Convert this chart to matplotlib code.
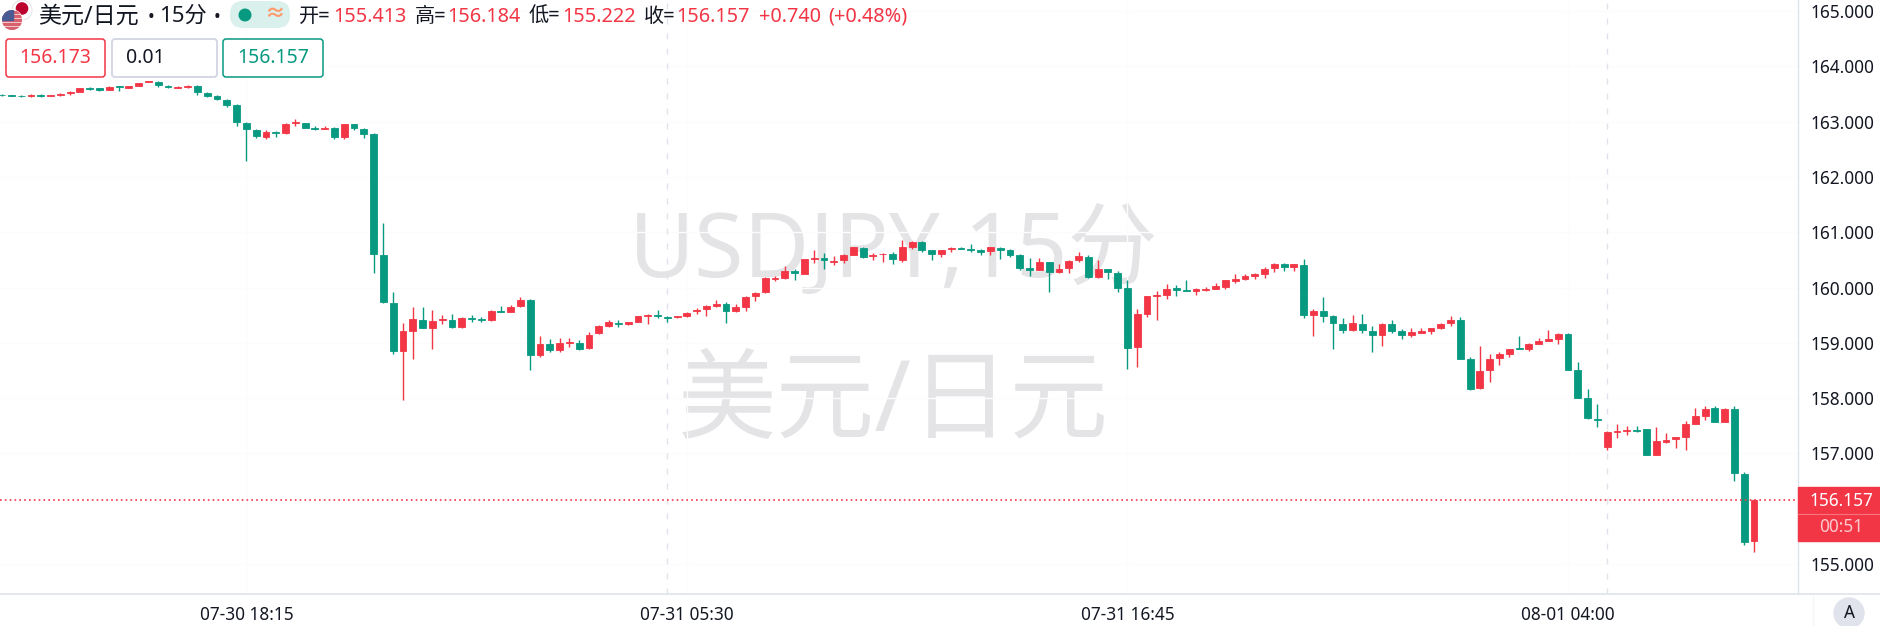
import matplotlib
matplotlib.use('Agg')
import matplotlib.pyplot as plt
from matplotlib.patches import Circle, FancyBboxPatch, Rectangle

plt.rcParams['font.family'] = ['Noto Sans', 'Noto Sans CJK SC', 'DejaVu Sans']

GREEN = '#089981'
RED = '#f23645'
LINE = '#e0e3eb'

# 15分钟K线，从图上读出来的 开/高/低/收
opens = [163.49, 163.48, 163.47, 163.47, 163.48, 163.47, 163.48, 163.51, 163.54, 163.60,
         163.60, 163.58, 163.64, 163.61, 163.65, 163.72, 163.72, 163.64, 163.61, 163.63,
         163.64, 163.52, 163.46, 163.39, 163.30, 162.97, 162.85, 162.72, 162.81, 162.79,
         162.97, 162.97, 162.88, 162.87, 162.88, 162.72, 162.95, 162.87, 162.77, 160.59,
         159.72, 158.86, 159.22, 159.42, 159.27, 159.41, 159.42, 159.29, 159.45, 159.43,
         159.42, 159.58, 159.56, 159.66, 159.77, 158.78, 158.97, 158.87, 158.99, 159.00,
         158.90, 159.17, 159.30, 159.36, 159.34, 159.38, 159.49, 159.51, 159.47, 159.46,
         159.48, 159.58, 159.62, 159.66, 159.71, 159.57, 159.65, 159.84, 159.91, 160.16,
         160.17, 160.30, 160.24, 160.51, 160.53, 160.47, 160.50, 160.59, 160.71, 160.57,
         160.60, 160.60, 160.50, 160.73, 160.82, 160.67, 160.60, 160.69, 160.71, 160.69,
         160.67, 160.66, 160.72, 160.67, 160.59, 160.36, 160.32, 160.46, 160.28, 160.35,
         160.49, 160.56, 160.19, 160.33, 160.27, 159.99, 158.92, 159.53, 159.84, 159.87,
         159.99, 159.95, 159.93, 159.95, 159.98, 160.01, 160.12, 160.16, 160.21, 160.24,
         160.35, 160.43, 160.37, 160.41, 159.51, 159.57, 159.48, 159.34, 159.23, 159.34,
         159.22, 159.14, 159.34, 159.22, 159.15, 159.18, 159.22, 159.26, 159.35, 159.41,
         158.71, 158.18, 158.50, 158.72, 158.79, 158.91, 158.88, 158.98, 159.03, 159.06,
         159.16, 158.50, 158.01, 157.62, 157.11, 157.38, 157.40, 157.42, 157.44, 156.98,
         157.21, 157.26, 157.30, 157.54, 157.68, 157.82, 157.57, 157.81, 156.63, 155.413]
highs = [163.50, 163.49, 163.48, 163.50, 163.50, 163.48, 163.52, 163.55, 163.60, 163.63,
         163.61, 163.64, 163.65, 163.65, 163.70, 163.74, 163.73, 163.66, 163.65, 163.66,
         163.66, 163.54, 163.48, 163.41, 163.31, 162.99, 162.87, 162.85, 162.83, 162.97,
         163.04, 162.98, 162.92, 162.92, 162.91, 162.96, 162.96, 162.89, 162.80, 161.16,
         159.92, 159.35, 159.64, 159.65, 159.59, 159.50, 159.53, 159.46, 159.50, 159.47,
         159.59, 159.67, 159.68, 159.82, 159.80, 159.12, 159.06, 159.08, 159.09, 159.05,
         159.19, 159.32, 159.42, 159.41, 159.38, 159.49, 159.52, 159.59, 159.48, 159.49,
         159.55, 159.63, 159.68, 159.77, 159.74, 159.70, 159.85, 159.91, 160.19, 160.21,
         160.39, 160.34, 160.52, 160.67, 160.63, 160.57, 160.61, 160.74, 160.73, 160.62,
         160.62, 160.64, 160.86, 160.84, 160.85, 160.68, 160.68, 160.73, 160.73, 160.79,
         160.70, 160.74, 160.73, 160.70, 160.60, 160.53, 160.53, 160.47, 160.43, 160.50,
         160.64, 160.59, 160.49, 160.34, 160.29, 160.14, 159.62, 159.85, 159.94, 160.07,
         160.04, 160.13, 160.00, 160.01, 160.09, 160.14, 160.24, 160.24, 160.27, 160.38,
         160.44, 160.44, 160.43, 160.52, 159.62, 159.83, 159.50, 159.44, 159.50, 159.53,
         159.30, 159.35, 159.41, 159.25, 159.26, 159.27, 159.27, 159.35, 159.49, 159.46,
         158.74, 158.94, 158.80, 158.84, 158.89, 159.12, 158.99, 159.09, 159.23, 159.17,
         159.18, 158.65, 158.16, 157.89, 157.40, 157.53, 157.49, 157.49, 157.45, 157.47,
         157.37, 157.30, 157.59, 157.83, 157.85, 157.85, 157.82, 157.86, 156.66, 156.184]
lows = [163.46, 163.46, 163.44, 163.44, 163.45, 163.46, 163.47, 163.48, 163.53, 163.57,
        163.56, 163.57, 163.56, 163.60, 163.64, 163.71, 163.63, 163.61, 163.60, 163.60,
        163.48, 163.45, 163.39, 163.27, 162.92, 162.29, 162.70, 162.69, 162.72, 162.78,
        162.92, 162.88, 162.85, 162.86, 162.69, 162.69, 162.85, 162.71, 160.27, 159.72,
        158.79, 157.96, 158.70, 159.26, 158.88, 159.34, 159.27, 159.27, 159.37, 159.37,
        159.40, 159.55, 159.55, 159.65, 158.51, 158.75, 158.83, 158.84, 158.93, 158.87,
        158.89, 159.16, 159.29, 159.28, 159.33, 159.37, 159.34, 159.44, 159.38, 159.45,
        159.47, 159.53, 159.48, 159.65, 159.36, 159.55, 159.58, 159.76, 159.90, 160.11,
        160.15, 160.14, 160.24, 160.44, 160.33, 160.41, 160.44, 160.58, 160.53, 160.49,
        160.46, 160.43, 160.47, 160.70, 160.65, 160.50, 160.56, 160.64, 160.69, 160.65,
        160.58, 160.58, 160.52, 160.55, 160.32, 160.21, 160.32, 159.92, 160.27, 160.27,
        160.47, 160.18, 160.18, 160.15, 159.91, 158.53, 158.57, 159.46, 159.41, 159.80,
        159.85, 159.93, 159.86, 159.93, 159.97, 159.98, 160.09, 160.14, 160.15, 160.18,
        160.28, 160.30, 160.29, 159.45, 159.13, 159.38, 158.89, 159.18, 159.22, 159.18,
        158.84, 158.95, 159.18, 159.07, 159.11, 159.18, 159.16, 159.25, 159.30, 158.70,
        158.15, 158.16, 158.30, 158.59, 158.75, 158.88, 158.86, 158.97, 159.03, 158.98,
        158.50, 158.00, 157.63, 157.48, 157.07, 157.28, 157.34, 157.39, 156.98, 156.98,
        157.18, 157.09, 157.06, 157.53, 157.60, 157.56, 157.56, 156.51, 155.34, 155.222]
closes = [163.48, 163.47, 163.46, 163.48, 163.47, 163.48, 163.50, 163.53, 163.60, 163.59,
          163.58, 163.63, 163.62, 163.64, 163.69, 163.73, 163.66, 163.63, 163.63, 163.64,
          163.54, 163.47, 163.40, 163.30, 162.99, 162.87, 162.74, 162.81, 162.79, 162.96,
          162.99, 162.89, 162.87, 162.88, 162.72, 162.95, 162.88, 162.78, 160.60, 159.73,
          158.86, 159.21, 159.43, 159.27, 159.40, 159.43, 159.29, 159.45, 159.43, 159.42,
          159.58, 159.56, 159.65, 159.77, 158.78, 158.97, 158.87, 159.00, 159.01, 158.88,
          159.15, 159.30, 159.38, 159.34, 159.37, 159.48, 159.51, 159.48, 159.45, 159.48,
          159.54, 159.60, 159.66, 159.71, 159.58, 159.64, 159.83, 159.90, 160.18, 160.18,
          160.30, 160.26, 160.51, 160.53, 160.49, 160.48, 160.59, 160.73, 160.55, 160.59,
          160.61, 160.51, 160.73, 160.83, 160.67, 160.61, 160.67, 160.71, 160.70, 160.67,
          160.65, 160.73, 160.67, 160.59, 160.36, 160.32, 160.46, 160.28, 160.34, 160.48,
          160.57, 160.19, 160.33, 160.28, 160.00, 158.91, 159.53, 159.84, 159.86, 159.98,
          159.95, 159.94, 159.97, 159.98, 160.02, 160.13, 160.15, 160.20, 160.24, 160.34,
          160.43, 160.37, 160.42, 159.51, 159.58, 159.49, 159.35, 159.23, 159.35, 159.23,
          159.14, 159.34, 159.22, 159.15, 159.19, 159.21, 159.26, 159.34, 159.41, 158.71,
          158.17, 158.49, 158.71, 158.79, 158.88, 158.89, 158.98, 159.03, 159.06, 159.16,
          158.50, 158.01, 157.64, 157.60, 157.39, 157.41, 157.42, 157.40, 156.98, 157.23,
          157.24, 157.29, 157.53, 157.68, 157.81, 157.57, 157.81, 156.64, 155.40, 156.157]

# 坐标轴标签
price_ticks = [155, 157, 158, 159, 160, 161, 162, 163, 164, 165]
time_bars = [25, 70, 115, 160]
time_labels = ['07-30 18:15', '07-31 05:30', '07-31 16:45', '08-01 04:00']
session_bars = [68, 164]
last_price = 156.157

W, H = 1881, 626
fig = plt.figure(figsize=(W / 100, H / 100), dpi=100, facecolor='white')
ax = fig.add_axes([0, (H - 594) / H, 1798 / W, 594 / H])
ax.set_xlim(-0.163, 183.49)
ax.set_ylim(154.458, 165.199)

# 很淡的网格和日期分隔线
ax.set_axisbelow(True)
ax.set_yticks(price_ticks)
ax.set_yticklabels(['%.3f' % p for p in price_ticks])
ax.set_xticks(time_bars)
ax.set_xticklabels(time_labels)
ax.grid(color='#fcfcfd', linewidth=1)
ax.yaxis.tick_right()
ax.tick_params(axis='y', length=0, pad=9, labelsize=12.4, labelcolor='#131722')
ax.tick_params(axis='x', length=0, pad=8.4, labelsize=12.4, labelcolor='#131722')
for s in ['top', 'left']:
    ax.spines[s].set_visible(False)
ax.spines['right'].set_color(LINE)
ax.spines['bottom'].set_color(LINE)
ax.spines['right'].set_linewidth(1)
ax.spines['bottom'].set_linewidth(1.2)
for b in session_bars:
    ax.axvline(b, color=LINE, linewidth=1, dashes=(4.3, 6.5), zorder=1)

# 水印
ax.text(0.497, 0.573, 'USDJPY,15分', transform=ax.transAxes, ha='center', va='center',
        fontsize=65, color='#e4e4e6', zorder=0.5)
ax.text(0.497, 0.317, '美元/日元', transform=ax.transAxes, ha='center', va='center',
        fontsize=71, color='#e4e4e6', zorder=0.5)

# K线
for i in range(len(opens)):
    c = RED if closes[i] >= opens[i] else GREEN
    ax.vlines(i, lows[i], highs[i], colors=c, linewidth=1.0, zorder=3)
    ax.bar(i, abs(closes[i] - opens[i]), bottom=min(opens[i], closes[i]), width=0.7,
           color=c, edgecolor=c, linewidth=0.6, zorder=4)

# 现价线
ax.axhline(last_price, color=RED, linewidth=1.2, dashes=(1.0, 1.9), zorder=5)

# 上面一层用像素坐标画界面元素
ui = fig.add_axes([0, 0, 1, 1], facecolor='none')
ui.set_xlim(0, W)
ui.set_ylim(H, 0)
ui.axis('off')

# 旗子
jp = Circle((22, 10), 10, facecolor='white', edgecolor='#e6e6ea', linewidth=0.8)
ui.add_patch(jp)
ui.add_patch(Circle((22, 8.5), 5.6, color='#bc002d'))
us = Circle((12, 20), 10, color='white')
ui.add_patch(us)
for k in range(5):
    st = Rectangle((2, 10.5 + k * 4), 20, 2, color='#d8606d')
    ui.add_patch(st)
    st.set_clip_path(us)
canton = Rectangle((2, 10), 11, 9.5, color='#4a5a92')
ui.add_patch(canton)
canton.set_clip_path(us)

# 标题栏
ui.text(38, 16.5, '美元/日元', fontsize=16.6, color='#131722', va='center')
ui.text(148, 16.5, '•', fontsize=13, color='#131722', va='center')
ui.text(159, 16.5, '15分', fontsize=16, color='#131722', va='center')
ui.text(214, 16.5, '•', fontsize=13, color='#131722', va='center')
ui.add_patch(FancyBboxPatch((230, 1), 60, 27, boxstyle='round,pad=0,rounding_size=13',
                            facecolor='#daf0ec', edgecolor='none'))
ui.add_patch(Circle((245, 15), 5.8, color=GREEN))
ui.text(275, 14.5, '≈', fontsize=15, color='#ff9a6b', ha='center', va='center', fontweight='bold')

ohlc_labels = ['开=', '高=', '低=', '收=']
ohlc_label_x = [299, 415, 529, 644]
ohlc_values = ['155.413', '156.184', '155.222', '156.157']
ohlc_value_x = [333, 447, 562, 676]
for t, x in zip(ohlc_labels, ohlc_label_x):
    ui.text(x, 16.5, t, fontsize=14.5, color='#131722', va='center')
for t, x in zip(ohlc_values, ohlc_value_x):
    ui.text(x, 16.5, t, fontsize=14.3, color=RED, va='center')
ui.text(759, 16.5, '+0.740', fontsize=14.3, color=RED, va='center')
ui.text(828, 16.5, '(+0.48%)', fontsize=14.3, color=RED, va='center')

# 买卖价框
for x0, x1, ec, lw in [(6, 105, RED, 1.1), (112, 217, '#d5d8e4', 1.4), (223, 323, GREEN, 1.1)]:
    ui.add_patch(FancyBboxPatch((x0 + 3, 42), x1 - x0 - 6, 32, boxstyle='round,pad=3', facecolor='white',
                                edgecolor=ec, linewidth=lw))
ui.text(55, 58, '156.173', fontsize=14, color=RED, ha='center', va='center')
ui.text(126, 58, '0.01', fontsize=14, color='#131722', va='center')
ui.text(273, 58, '156.157', fontsize=14, color=GREEN, ha='center', va='center')

# 右侧现价标签
ui.add_patch(Rectangle((1798, 487), 83, 54, color=RED))
ui.plot([1798, 1881], [514, 514], color='#f7737e', linewidth=0.8)
ui.text(1841, 501, '156.157', fontsize=12.4, color='white', fontweight='bold', ha='center', va='center')
ui.text(1841, 527, '00:51', fontsize=12.4, color='#fbc9cd', ha='center', va='center')

# 右下角 A 按钮
ui.plot([1813, 1813], [595, 626], color='#f5f5f7', linewidth=1)
ui.add_patch(Circle((1849, 613), 15, color=LINE))
ui.text(1849, 613, 'A', fontsize=12.4, color='#131722', ha='center', va='center')
ui.plot([1798, 1881], [594, 594], color=LINE, linewidth=1.2)

fig.savefig('out.png', dpi=100)
